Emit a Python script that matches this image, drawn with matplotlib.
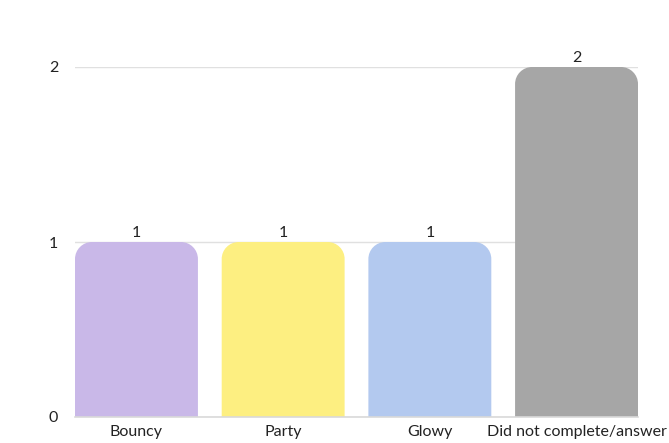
import matplotlib
matplotlib.use('Agg')
import matplotlib.pyplot as plt
from matplotlib.path import Path
from matplotlib.patches import PathPatch

plt.rcParams['font.family'] = ['Lato', 'DejaVu Sans']

categories = ['Bouncy', 'Party', 'Glowy', 'Did not complete/answer']
counts = [1, 1, 1, 2]
colors = ['#c9b8e8', '#fdef81', '#b3c9ef', '#a6a6a6']


def rounded_top(x0, y0, w, h, rx, ry):
    k = 0.5523
    x1, y1 = x0 + w, y0 + h
    verts = [
        (x0, y0), (x0, y1 - ry),
        (x0, y1 - ry + k * ry), (x0 + rx - k * rx, y1), (x0 + rx, y1),
        (x1 - rx, y1),
        (x1 - rx + k * rx, y1), (x1, y1 - ry + k * ry), (x1, y1 - ry),
        (x1, y0), (x0, y0),
    ]
    codes = [Path.MOVETO, Path.LINETO,
             Path.CURVE4, Path.CURVE4, Path.CURVE4,
             Path.LINETO,
             Path.CURVE4, Path.CURVE4, Path.CURVE4,
             Path.LINETO, Path.CLOSEPOLY]
    return Path(verts, codes)


fig = plt.figure(figsize=(6.69, 4.43), dpi=100)
ax = fig.add_axes([75 / 669, 26 / 443, 563 / 669, 350 / 443])

width = 0.838
x = range(len(categories))
bars = ax.bar(x, counts, width=width, color=colors, zorder=2)

ax.set_xlim(-width / 2, len(categories) - 1 + width / 2)
ax.set_ylim(0, 2)

# pixel radius ~17px converted to data units
ax_w_px = 563
ax_h_px = 350
rx = 17 * (ax.get_xlim()[1] - ax.get_xlim()[0]) / ax_w_px
ry = 17 * 2 / ax_h_px
for b, c in zip(bars, colors):
    b.set_visible(False)
    p = rounded_top(b.get_x(), b.get_y(), b.get_width(), b.get_height(), rx, ry)
    ax.add_patch(PathPatch(p, facecolor=c, edgecolor='none', zorder=2))
    ax.text(b.get_x() + b.get_width() / 2, b.get_height() + 0.012, str(int(b.get_height())),
            ha='center', va='bottom', fontsize=11.5, color='#222222')

ax.set_yticks([0, 1, 2])
ax.set_xticks(list(x))
ax.set_xticklabels(categories)
ax.tick_params(axis='both', length=0, labelsize=11.5, colors='#222222')
ax.tick_params(axis='y', pad=12)
ax.tick_params(axis='x', pad=6)
ax.grid(axis='y', color='#e0e0e0', linewidth=1, zorder=0)
for s in ['top', 'right', 'left']:
    ax.spines[s].set_visible(False)
ax.spines['bottom'].set_color('#d9d9d9')
ax.spines['bottom'].set_linewidth(1.2)

fig.savefig('out.png', dpi=100)
